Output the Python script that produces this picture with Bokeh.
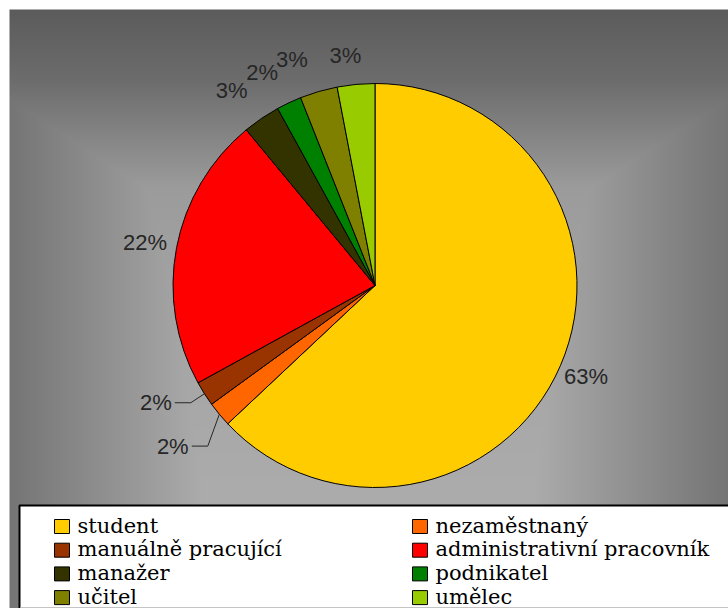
import numpy as np
from bokeh.plotting import figure
from bokeh.models import Range1d
from bokeh.embed import file_html
from bokeh.resources import INLINE
from bokeh.core.properties import value

# Occupation breakdown (percent of respondents)
categories = ["student", "nezaměstnaný", "manuálně pracující",
              "administrativní pracovník", "manažer", "podnikatel",
              "učitel", "umělec"]
shares = [63, 2, 2, 22, 3, 2, 3, 3]
colors = ["#FFCC00", "#FF6600", "#993300", "#FF0000",
          "#333300", "#008000", "#808000", "#99CC00"]

W, H = 728, 608
LEGEND_FONT = "'DejaVu Serif', 'DejaVu Sans', serif"


def Y(row):
    """Convert a pixel row (from the top) to data y."""
    return H - row


p = figure(width=W, height=H, x_range=Range1d(0, W), y_range=Range1d(0, H),
           output_backend="svg", toolbar_location=None, min_border=0)
p.axis.visible = False
p.grid.visible = False
p.outline_line_color = None
p.background_fill_color = "white"
p.border_fill_color = "white"

# --- gray "from centre" gradient behind the chart ---------------------------
x0, y0 = 9, 9
bw, bh = W - x0, H - y0
xs = x0 + 0.5 + np.arange(bw)
rows = y0 + 0.5 + np.arange(bh)
hx = 0.283 * np.abs(xs - 368.0)
hy = np.interp(rows, [9, 80, 187, 300, 490, 608], [127, 110, 63, 55, 47, 45])
shade = 218.6 - np.maximum(hx[None, :], hy[:, None])
shade = np.clip(shade, 0, 255).astype(np.uint8)[::-1]
bg = np.empty((bh, bw), dtype=np.uint32)
view = bg.view(dtype=np.uint8).reshape((bh, bw, 4))
view[..., 0] = shade
view[..., 1] = shade
view[..., 2] = shade
view[..., 3] = 255
p.image_rgba(image=[bg], x=x0, y=0, dw=bw, dh=bh)

# --- pie ------------------------------------------------------------------
cx, cy, r = 374.5, Y(285), 202
frac = np.cumsum([0] + shares) / sum(shares)
start = np.pi / 2 - 2 * np.pi * frac[:-1]
end = np.pi / 2 - 2 * np.pi * frac[1:]
p.wedge(x=cx, y=cy, radius=r, start_angle=list(start), end_angle=list(end),
        direction="clock", fill_color=colors, line_color="black", line_width=1)

# --- percentage labels ----------------------------------------------------
mid = (start + end) / 2
label_r = r + 28
# pixel nudges that keep the crowded small-slice labels apart
nudge = [(0, 0), (-25, -14), (-25, 6), (-4, 0),
         (-14, 5), (-15, 5), (-19, 5), (-8, 1)]
lx = [cx + label_r * np.cos(a) + dx for a, (dx, dy) in zip(mid, nudge)]
ly = [cy + label_r * np.sin(a) + dy for a, (dx, dy) in zip(mid, nudge)]
p.text(x=lx, y=ly, text=[f"{s}%" for s in shares], text_align="center",
       text_baseline="middle", text_font=value("Liberation Sans"),
       text_font_size="22px", text_color="#262626")

# leader lines for the labels pushed away from their slices
for i in (1, 2):
    ex, ey = cx + r * np.cos(mid[i]), cy + r * np.sin(mid[i])
    p.line(x=[ex, lx[i] + 35, lx[i] + 19], y=[ey, ly[i], ly[i]],
           line_color="#262626", line_width=1)

# --- legend ---------------------------------------------------------------
p.quad(left=19, right=W + 20, top=Y(505), bottom=-20,
       fill_color="white", line_color="black", line_width=2)
p.line(x=[20, W], y=[Y(607), Y(607)], line_color="#c4c4c4", line_width=1)

col = np.arange(len(categories)) % 2
row = np.arange(len(categories)) // 2
sw_left = 54 + 358 * col
sw_mid = np.array([Y(526 + 23.7 * k) for k in row])
p.quad(left=sw_left, right=sw_left + 15, top=sw_mid + 7, bottom=sw_mid - 7,
       fill_color=colors, line_color="black", line_width=1)
p.text(x=list(sw_left + 23), y=list(sw_mid + 1), text=categories,
       text_align="left", text_baseline="middle",
       text_font=value(LEGEND_FONT), text_font_size="21px",
       text_color="black")

open("out.html", "w").write(file_html(p, INLINE))
